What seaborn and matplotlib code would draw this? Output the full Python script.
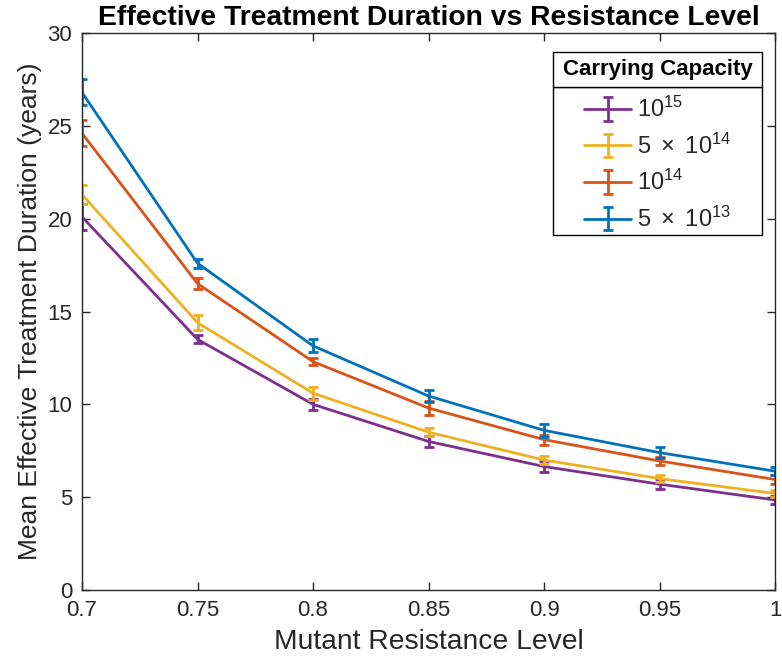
import matplotlib
matplotlib.use("Agg")
import matplotlib.pyplot as plt
import seaborn as sns
import numpy as np
import pandas as pd
from matplotlib.patches import Rectangle

# ---- data ----
resistance = [0.70, 0.75, 0.80, 0.85, 0.90, 0.95, 1.00]
x_tick_labels = ["0.7", "0.75", "0.8", "0.85", "0.9", "0.95", "1"]
cap_labels = [r"$10^{15}$", r"$5\ \times\ 10^{14}$", r"$10^{14}$", r"$5\ \times\ 10^{13}$"]
mean_1e15 = [20.1, 13.5, 10.0, 8.0, 6.65, 5.7, 4.85]
err_1e15 = [0.7, 0.22, 0.3, 0.3, 0.3, 0.27, 0.2]
mean_5e14 = [21.3, 14.4, 10.6, 8.5, 7.0, 6.0, 5.2]
err_5e14 = [0.5, 0.4, 0.35, 0.2, 0.2, 0.2, 0.18]
mean_1e14 = [24.6, 16.5, 12.3, 9.8, 8.1, 6.95, 5.95]
err_1e14 = [0.7, 0.3, 0.2, 0.4, 0.27, 0.22, 0.22]
mean_5e13 = [26.8, 17.6, 13.15, 10.45, 8.6, 7.4, 6.4]
err_5e13 = [0.7, 0.25, 0.35, 0.3, 0.35, 0.28, 0.22]
colors = ["#7E2F8E", "#EDB120", "#D95319", "#0072BD"]

means = [mean_1e15, mean_5e14, mean_1e14, mean_5e13]
errs = [err_1e15, err_5e14, err_1e14, err_5e13]

sns.set_style("ticks")
plt.rcParams["font.family"] = ["Liberation Sans", "DejaVu Sans"]
plt.rcParams["mathtext.fontset"] = "custom"
plt.rcParams["mathtext.rm"] = "Liberation Sans"
plt.rcParams["mathtext.it"] = "Liberation Sans:italic"

W, H = 782, 660
fig = plt.figure(figsize=(W / 100, H / 100), dpi=100)
ax = fig.add_axes([82 / W, 1 - 590 / H, (775 - 82) / W, (590 - 33) / H])

handles = []
for lab, m, e, c in zip(cap_labels, means, errs, colors):
    df = pd.DataFrame({"x": resistance, "y": m})
    sns.lineplot(data=df, x="x", y="y", ax=ax, color=c, linewidth=2.0, errorbar=None)
    line = ax.lines[-1]
    eb = ax.errorbar(resistance, m, yerr=e, fmt="none", ecolor=c, elinewidth=2.0,
                     capsize=3.8, capthick=2.0)
    handles.append((line, eb))

ax.set_xlim(0.7, 1.0)
ax.set_ylim(0, 30)
ax.set_xticks(resistance)
ax.set_xticklabels(x_tick_labels)
ax.set_yticks([0, 5, 10, 15, 20, 25, 30])
ax.tick_params(direction="in", length=6, width=1, top=True, right=True,
               labelsize=16, colors="#262626", pad=7)
for s in ax.spines.values():
    s.set_color("#262626")
    s.set_linewidth(1.0)
ax.set_xlabel("Mutant Resistance Level", fontsize=20.3, color="#262626", labelpad=6)
ax.set_ylabel("Mean Effective Treatment Duration (years)", fontsize=19, color="#262626", labelpad=4)
ax.set_title("Effective Treatment Duration vs Resistance Level", fontsize=20.3,
             fontweight="bold", color="black", pad=6)

# MATLAB-style legend: frames drawn separately
lx0, lx1, ly0, ly_mid, ly1 = 553, 762, 52, 87, 235
fig.patches.append(Rectangle((lx0 / W, 1 - ly1 / H), (lx1 - lx0) / W, (ly1 - ly_mid) / H,
                             transform=fig.transFigure, facecolor="white",
                             edgecolor="black", linewidth=1.0, zorder=5))
fig.patches.append(Rectangle((lx0 / W, 1 - ly_mid / H), (lx1 - lx0) / W, (ly_mid - ly0) / H,
                             transform=fig.transFigure, facecolor="white",
                             edgecolor="black", linewidth=1.0, zorder=5))
fig.text((lx0 + lx1) / 2 / W, 1 - (ly0 + ly_mid) / 2 / H, "Carrying Capacity",
         ha="center", va="center", fontsize=16, fontweight="bold", color="black", zorder=11)

leg = fig.legend(handles, cap_labels, loc="upper left",
                 bbox_to_anchor=(584 / W, 1 - 97 / H), bbox_transform=fig.transFigure,
                 fontsize=17, frameon=False, handlelength=2.0, handletextpad=0.25,
                 labelspacing=0.48, borderpad=0, borderaxespad=0)
leg.set_zorder(12)

fig.savefig("out.png", dpi=100)
